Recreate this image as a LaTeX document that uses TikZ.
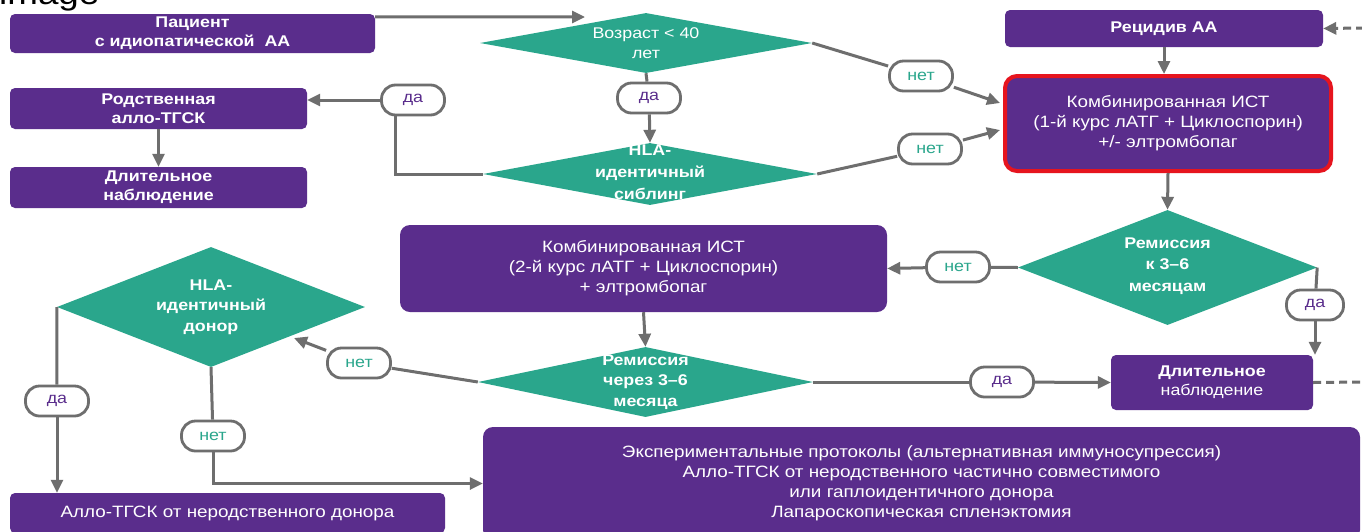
\documentclass[tikz,border=0pt]{standalone}
\usepackage{fontspec}
\setmainfont{Liberation Sans}[FakeStretch=1.15]
\usetikzlibrary{arrows.meta,shapes.geometric,calc}
\definecolor{cpur}{RGB}{90,45,140}
\definecolor{cteal}{RGB}{42,166,140}
\definecolor{cgray}{RGB}{110,110,110}
\definecolor{cred}{RGB}{230,20,30}
\begin{document}
\begin{tikzpicture}[x=1pt,y=-1pt,
  box/.style={rectangle, rounded corners=5pt, fill=cpur, text=white, align=center, inner sep=0pt, font=\bfseries\fontsize{15.5}{19}\selectfont},
  bigbox/.style={box, rounded corners=10pt, font=\fontsize{16.4}{20}\selectfont},
  dia/.style={diamond, fill=cteal, inner sep=0pt},
  diatext/.style={text=white, align=center, inner sep=0pt, font=\bfseries\fontsize{15.5}{20.5}\selectfont},
  lab/.style={rectangle, rounded corners=14pt, draw=cgray, line width=2.8pt, fill=white, minimum width=63pt, minimum height=30pt, inner sep=0pt, font=\fontsize{15.5}{18}\selectfont},
  yes/.style={lab, text=cpur},
  no/.style={lab, text=cteal},
  conn/.style={draw=cgray, line width=3pt},
  arr/.style={conn, -{Triangle[length=13pt,width=12pt]}},
  dsh/.style={dash pattern=on 8pt off 5pt}
]
\useasboundingbox (0,0) rectangle (1362,531);
\fill[white] (0,0) rectangle (1362,531);

\node[anchor=base west, inner sep=0pt, font=\fontsize{32}{32}\selectfont] (img) at (-1,4) {image};

% boxes
\node[box, minimum width=365pt, minimum height=39pt] (p) at (192.5,33.5) {Пациент\\с идиопатической\ \ АА};
\node[box, minimum width=297pt, minimum height=41pt] (rod) at (158.5,108.5) {Родственная\\алло-ТГСК};
\node[box, minimum width=297pt, minimum height=41pt] (dl1) at (158.5,187.5) {Длительное\\наблюдение};
\node[box, minimum width=318pt, minimum height=37pt] (rec) at (1164,28.5) {Рецидив АА};
\node[bigbox, draw=cred, line width=4pt, rounded corners=12pt, minimum width=326pt, minimum height=95pt] (c1) at (1168,123.5) {Комбинированная ИСТ\\(1-й курс лАТГ + Циклоспорин)\\+/- элтромбопаг};
\node[bigbox, minimum width=487pt, minimum height=87pt] (b2) at (643.5,268.5) {Комбинированная ИСТ\\(2-й курс лАТГ + Циклоспорин)\\+ элтромбопаг};
\node[box, minimum width=202pt, minimum height=55pt] (dl2) at (1212,382.5) {Длительное\\\mdseries наблюдение};
\node[bigbox, minimum width=877pt, minimum height=113pt] (exp) at (921.5,483.5) {Экспериментальные протоколы (альтернативная иммуносупрессия)\\Алло-ТГСК от неродственного частично совместимого\\или гаплоидентичного донора\\Лапароскопическая спленэктомия};
\node[box, font=\fontsize{16.4}{20}\selectfont, minimum width=435pt, minimum height=40pt] (allo) at (227.5,513) {Алло-ТГСК от неродственного донора};

% diamonds
\node[dia, minimum width=332pt, minimum height=60pt] (d1) at (646,43) {};
\node[diatext, font=\fontsize{15.5}{20}\selectfont] (t1) at (d1) {Возраст < 40\\лет};
\node[dia, minimum width=334pt, minimum height=62pt] (d2) at (650,174) {};
\node[diatext, font=\bfseries\fontsize{15.5}{22}\selectfont] (t2) at (650,172) {HLA-\\идентичный\\сиблинг};
\node[dia, minimum width=299pt, minimum height=115pt] (d3) at (1167.5,267.5) {};
\node[diatext, font=\bfseries\fontsize{15.5}{21.5}\selectfont] (t3) at (1167.5,266) {Ремиссия\\к 3–6\\месяцам};
\node[dia, minimum width=308pt, minimum height=120pt] (d4) at (211,307) {};
\node[diatext] (t4) at (211,307) {HLA-\\идентичный\\донор};
\node[dia, minimum width=335pt, minimum height=70pt] (d5) at (645.5,382) {};
\node[diatext] (t5) at (645.5,382) {Ремиссия\\через 3–6\\месяца};

% labels
\node[yes] (l1) at (413,100) {да};
\node[yes] (l2) at (649,98) {да};
\node[no] (l3) at (921,76) {нет};
\node[no] (l4) at (930,149) {нет};
\node[no] (l5) at (958,267) {нет};
\node[yes, minimum width=57pt] (l6) at (1315,305) {да};
\node[no] (l7) at (359,363) {нет};
\node[yes] (l8) at (1002,382) {да};
\node[yes] (l9) at (57,401) {да};
\node[no] (l10) at (213,436) {нет};

% free ends
\coordinate (d1in) at (585,17);
\coordinate (c1a) at (1000,103);
\coordinate (c1b) at (1000,130);
\coordinate (d4in) at (294,338);
\coordinate (e1) at (1364,28);
\coordinate (e2) at (1364,382);

% connectors
\draw[arr] ([yshift=-3pt]p.north east) -- (d1in);
\draw[conn] (d1.south) -- (l2);
\draw[arr] (l2) -- (d2.north);
\draw[conn] (d1.east) -- (l3);
\draw[arr] (l3) -- (c1a);
\draw[conn] (d2.east) -- (l4);
\draw[arr] (l4) -- (c1b);
\draw[conn] (d2.west) -| ([xshift=-18pt]l1.south);
\draw[arr] (l1.west) -- (l1.west -| rod.east);
\draw[arr] (rod.south) -- (dl1.north);
\draw[arr] (rec.south) -- (rec.south |- c1.north);
\draw[arr] (c1.south) -- (d3.north);
\draw[conn] (d3.west) -- (l5);
\draw[arr] (l5) -- (b2.east);
\draw[conn] (d3.east) -- (l6);
\draw[arr] (l6) -- (l6 |- dl2.north);
\draw[conn, dsh] (dl2.east) -- (e2);
\draw[arr, dsh] (e1) -- (rec.east);
\draw[arr] (b2.south) -- (d5.north);
\draw[conn] (d5.west) -- (l7);
\draw[arr] (l7) -- (d4in);
\draw[conn] (d5.east) -- (l8);
\draw[arr] (l8) -- (dl2.west);
\draw[conn] (d4.west) -- (l9);
\draw[arr] (l9) -- (l9 |- allo.north);
\draw[conn] (d4.south) -- (l10);
\draw[arr] (l10) |- (exp.west);
\end{tikzpicture}
\end{document}
